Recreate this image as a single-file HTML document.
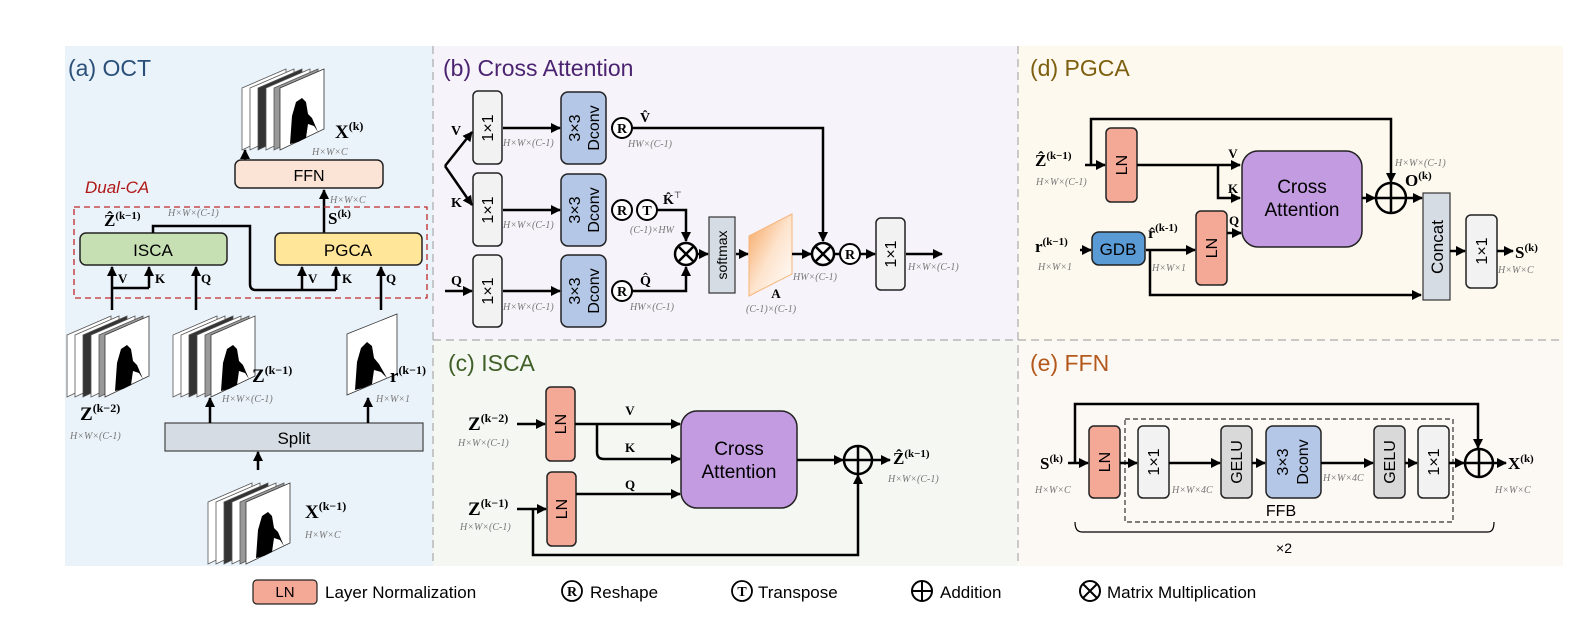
<!DOCTYPE html>
<html><head><meta charset="utf-8"><style>
html,body{margin:0;padding:0;background:#fff}
svg{display:block}
.t{font-family:"Liberation Sans",sans-serif}
.m{font-family:"Liberation Serif",serif;font-weight:bold;fill:#000}
.d{font-family:"Liberation Serif",serif;font-style:italic;fill:#777;font-size:10px}
.ln{stroke:#000;stroke-width:2.5;fill:none}
.bx{stroke:#222;stroke-width:1.5}
</style></head><body>
<svg width="1582" height="641" viewBox="0 0 1582 641" xmlns="http://www.w3.org/2000/svg">
<defs>
<marker id="ar" viewBox="0 0 10 10" refX="9" refY="5" markerWidth="4" markerHeight="4" orient="auto-start-reverse" markerUnits="strokeWidth"><path d="M0,0 L10,5 L0,10 z" fill="#000"/></marker>
<linearGradient id="og" x1="0" y1="0" x2="1" y2="1"><stop offset="0" stop-color="#f7a35c"/><stop offset="0.5" stop-color="#fde3cc"/><stop offset="1" stop-color="#fff"/></linearGradient>
<g id="stk">
<polygon points="0,22 44,3 44,63 0,84" fill="#fff" stroke="#555" stroke-width="0.8"/>
<polygon points="8,22 52,3 52,63 8,84" fill="#fff" stroke="#555" stroke-width="0.8"/>
<polygon points="16,22 60,3 60,63 16,84" fill="#333" stroke="#555" stroke-width="0.8"/>
<polygon points="24,22 68,3 68,63 24,84" fill="#fff" stroke="#555" stroke-width="0.8"/>
<polygon points="32,22 76,3 76,63 32,84" fill="#999" stroke="#555" stroke-width="0.8"/>
<polygon points="38,22 82,3 82,63 38,84" fill="#fff" stroke="#333" stroke-width="0.8"/>
<path d="M48,78 L50,50 L54,36 L60,32 L64,36 L66,48 L70,52 L76,66 L72,60 L66,58 L64,72 L56,76 z" fill="#000"/>
</g>
</defs>

<!-- panel backgrounds -->
<rect x="65" y="46" width="368" height="520" fill="#ebf3fa"/>
<rect x="433" y="46" width="585" height="294" fill="#f6f4fa"/>
<rect x="433" y="340" width="585" height="226" fill="#f5f7f3"/>
<rect x="1018" y="46" width="545" height="294" fill="#fdf9ee"/>
<rect x="1018" y="340" width="545" height="226" fill="#fcf8f4"/>
<line x1="433" y1="46" x2="433" y2="566" stroke="#aaa" stroke-dasharray="8,5" stroke-width="1.2"/>
<line x1="1018" y1="46" x2="1018" y2="566" stroke="#aaa" stroke-dasharray="8,5" stroke-width="1.2"/>
<line x1="433" y1="340" x2="1563" y2="340" stroke="#aaa" stroke-dasharray="8,5" stroke-width="1.2"/>

<text class="t" x="68" y="76" font-size="23" fill="#2a507a">(a) OCT</text>
<text class="t" x="443" y="76" font-size="23" fill="#4b2370">(b) Cross Attention</text>
<text class="t" x="448" y="371" font-size="23" fill="#3f5f27">(c) ISCA</text>
<text class="t" x="1030" y="76" font-size="23" fill="#7d5f10">(d) PGCA</text>
<text class="t" x="1030" y="371" font-size="23" fill="#b3591c">(e) FFN</text>

<!-- ===== (a) ===== -->
<use href="#stk" transform="translate(242,66)"/>
<text class="m" x="335" y="138" font-size="19">X<tspan font-size="12" dy="-8">(k)</tspan></text>
<text class="d" x="312" y="155">H×W×C</text>
<line class="ln" x1="245" y1="160" x2="245" y2="150" marker-end="url(#ar)"/>
<rect class="bx" x="235" y="160" width="148" height="28" rx="6" fill="#fbe4d6"/>
<text class="t" x="309" y="181" font-size="16" text-anchor="middle">FFN</text>
<line class="ln" x1="324" y1="233" x2="324" y2="190" marker-end="url(#ar)"/>
<text class="d" x="330" y="203">H×W×C</text>
<text class="t" x="85" y="193" font-size="17" font-style="italic" fill="#b01818">Dual-CA</text>
<rect x="74" y="207" width="353" height="91" fill="none" stroke="#c0282a" stroke-width="1.3" stroke-dasharray="6,4"/>
<text class="m" x="104" y="226" font-size="17">Ẑ<tspan font-size="11" dy="-7">(k−1)</tspan></text>
<text class="d" x="168" y="216">H×W×(C-1)</text>
<text class="m" x="328" y="224" font-size="17">S<tspan font-size="11" dy="-7">(k)</tspan></text>
<rect class="bx" x="80" y="233" width="147" height="32" rx="6" fill="#c6e0b4"/>
<text class="t" x="153" y="256" font-size="17" text-anchor="middle">ISCA</text>
<rect class="bx" x="275" y="233" width="147" height="32" rx="6" fill="#ffe699"/>
<text class="t" x="348" y="256" font-size="17" text-anchor="middle">PGCA</text>
<path class="ln" d="M153,233 V226 H250 V284 Q250,290 256,290 H336"/>
<line class="ln" x1="336" y1="290" x2="336" y2="267" marker-end="url(#ar)"/>
<line class="ln" x1="302" y1="290" x2="302" y2="267" marker-end="url(#ar)"/>
<line class="ln" x1="381" y1="310" x2="381" y2="267" marker-end="url(#ar)"/>
<line class="ln" x1="112" y1="310" x2="112" y2="267" marker-end="url(#ar)"/>
<path class="ln" d="M112,288 H149"/>
<line class="ln" x1="149" y1="288" x2="149" y2="267" marker-end="url(#ar)"/>
<line class="ln" x1="196" y1="310" x2="196" y2="267" marker-end="url(#ar)"/>
<text class="m" x="118" y="283" font-size="13">V</text>
<text class="m" x="155" y="283" font-size="13">K</text>
<text class="m" x="201" y="283" font-size="13">Q</text>
<text class="m" x="308" y="283" font-size="13">V</text>
<text class="m" x="342" y="283" font-size="13">K</text>
<text class="m" x="386" y="283" font-size="13">Q</text>
<use href="#stk" transform="translate(67,313)"/>
<use href="#stk" transform="translate(173,313)"/>
<g transform="translate(347,312)"><polygon points="0,22 50,2 50,62 0,83" fill="#fff" stroke="#333" stroke-width="0.8"/><path d="M8,78 L10,50 L14,36 L20,30 L25,34 L27,46 L32,52 L40,66 L34,60 L27,58 L25,72 L16,76 z" fill="#000"/></g>
<text class="m" x="80" y="420" font-size="19">Z<tspan font-size="12" dy="-8">(k−2)</tspan></text>
<text class="d" x="70" y="439">H×W×(C-1)</text>
<text class="m" x="252" y="382" font-size="19">Z<tspan font-size="12" dy="-8">(k−1)</tspan></text>
<text class="d" x="222" y="402">H×W×(C-1)</text>
<text class="m" x="390" y="382" font-size="19">r<tspan font-size="12" dy="-8">(k−1)</tspan></text>
<text class="d" x="376" y="402">H×W×1</text>
<rect x="165" y="423" width="258" height="28" fill="#d6dce4" stroke="#444" stroke-width="1.2"/>
<text class="t" x="294" y="444" font-size="17" text-anchor="middle">Split</text>
<line class="ln" x1="210" y1="423" x2="210" y2="398" marker-end="url(#ar)"/>
<line class="ln" x1="368" y1="423" x2="368" y2="398" marker-end="url(#ar)"/>
<line class="ln" x1="258" y1="470" x2="258" y2="452" marker-end="url(#ar)"/>
<use href="#stk" transform="translate(208,480)"/>
<text class="m" x="305" y="518" font-size="19">X<tspan font-size="12" dy="-8">(k−1)</tspan></text>
<text class="d" x="305" y="538">H×W×C</text>

<!-- ===== (b) ===== -->
<g class="bx" fill="#f2f2f2">
<rect x="473" y="91" width="29" height="73" rx="5"/><rect x="473" y="173" width="29" height="73" rx="5"/><rect x="473" y="255" width="29" height="72" rx="5"/>
<rect x="876" y="218" width="29" height="72" rx="5"/>
</g>
<g class="bx" fill="#b4c7e7">
<rect x="561" y="92" width="45" height="72" rx="7"/><rect x="561" y="174" width="45" height="72" rx="7"/><rect x="561" y="255" width="45" height="72" rx="7"/>
</g>
<g class="t" font-size="16" text-anchor="middle">
<text transform="translate(493,128) rotate(-90)">1×1</text>
<text transform="translate(493,210) rotate(-90)">1×1</text>
<text transform="translate(493,291) rotate(-90)">1×1</text>
<text transform="translate(896,254) rotate(-90)">1×1</text>
<text transform="translate(580,128) rotate(-90)">3×3</text><text transform="translate(599,128) rotate(-90)">Dconv</text>
<text transform="translate(580,210) rotate(-90)">3×3</text><text transform="translate(599,210) rotate(-90)">Dconv</text>
<text transform="translate(580,291) rotate(-90)">3×3</text><text transform="translate(599,291) rotate(-90)">Dconv</text>
</g>
<path class="ln" d="M445,166 L472,132" marker-end="url(#ar)"/>
<path class="ln" d="M445,166 L472,205" marker-end="url(#ar)"/>
<line class="ln" x1="445" y1="291" x2="472" y2="291" marker-end="url(#ar)"/>
<text class="m" x="451" y="135" font-size="14">V</text>
<text class="m" x="451" y="207" font-size="14">K</text>
<text class="m" x="451" y="285" font-size="14">Q</text>
<line class="ln" x1="503" y1="128" x2="560" y2="128" marker-end="url(#ar)"/>
<line class="ln" x1="503" y1="210" x2="560" y2="210" marker-end="url(#ar)"/>
<line class="ln" x1="503" y1="291" x2="560" y2="291" marker-end="url(#ar)"/>
<text class="d" x="503" y="146">H×W×(C-1)</text>
<text class="d" x="503" y="228">H×W×(C-1)</text>
<text class="d" x="503" y="310">H×W×(C-1)</text>
<g fill="#fff" stroke="#000" stroke-width="2">
<circle cx="622" cy="128" r="10"/><circle cx="622" cy="210" r="10"/><circle cx="647" cy="210" r="10"/><circle cx="622" cy="291" r="10"/><circle cx="850" cy="254" r="10"/>
</g>
<g class="m" font-size="14" text-anchor="middle" font-weight="normal">
<text x="622" y="133">R</text><text x="622" y="215">R</text><text x="647" y="215">T</text><text x="622" y="296">R</text><text x="850" y="259">R</text>
</g>
<path class="ln" d="M632,128 H823 V241" marker-end="url(#ar)"/>
<path class="ln" d="M657,210 H686 V241" marker-end="url(#ar)"/>
<path class="ln" d="M632,291 H686 V267" marker-end="url(#ar)"/>
<text class="m" x="640" y="122" font-size="14">V̂</text>
<text class="m" x="663" y="204" font-size="14">K̂<tspan font-size="9" dy="-6" font-weight="normal">⊤</tspan></text>
<text class="m" x="640" y="285" font-size="14">Q̂</text>
<text class="d" x="628" y="147">HW×(C-1)</text>
<text class="d" x="630" y="233">(C-1)×HW</text>
<text class="d" x="630" y="310">HW×(C-1)</text>
<g fill="#fff" stroke="#000" stroke-width="2.5">
<circle cx="686" cy="254" r="11"/><circle cx="823" cy="254" r="11"/>
</g>
<path d="M678,246 L694,262 M694,246 L678,262 M815,246 L831,262 M831,246 L815,262" stroke="#000" stroke-width="2.5"/>
<line class="ln" x1="697" y1="254" x2="708" y2="254" marker-end="url(#ar)"/>
<rect x="709" y="217" width="26" height="76" fill="#d6dce4" stroke="#333" stroke-width="1.2"/>
<text class="t" transform="translate(727,255) rotate(-90)" font-size="14" text-anchor="middle">softmax</text>
<line class="ln" x1="736" y1="254" x2="748" y2="254" marker-end="url(#ar)"/>
<polygon points="749,236 792,214 792,274 749,296" fill="url(#og)" stroke="#f7b57a" stroke-width="1"/>
<text class="m" x="776" y="298" font-size="13" text-anchor="middle">A</text>
<text class="d" x="746" y="312">(C-1)×(C-1)</text>
<line class="ln" x1="792" y1="254" x2="811" y2="254" marker-end="url(#ar)"/>
<line class="ln" x1="834" y1="254" x2="839" y2="254"/>
<line class="ln" x1="860" y1="254" x2="875" y2="254" marker-end="url(#ar)"/>
<text class="d" x="793" y="280">HW×(C-1)</text>
<line class="ln" x1="906" y1="254" x2="942" y2="254" marker-end="url(#ar)"/>
<text class="d" x="908" y="270">H×W×(C-1)</text>

<!-- ===== (c) ===== -->
<g class="bx" fill="#f4a896">
<rect x="546" y="387" width="29" height="74" rx="5"/><rect x="547" y="472" width="29" height="74" rx="5"/>
<rect x="1106" y="128" width="31" height="74" rx="5"/><rect x="1196" y="211" width="31" height="74" rx="5"/>
<rect x="1089" y="426" width="31" height="72" rx="5"/>
</g>
<g class="t" font-size="16" text-anchor="middle">
<text transform="translate(566,424) rotate(-90)">LN</text>
<text transform="translate(567,509) rotate(-90)">LN</text>
<text transform="translate(1127,165) rotate(-90)">LN</text>
<text transform="translate(1217,248) rotate(-90)">LN</text>
<text transform="translate(1110,462) rotate(-90)">LN</text>
</g>
<text class="m" x="468" y="430" font-size="19">Z<tspan font-size="12" dy="-8">(k−2)</tspan></text>
<text class="d" x="458" y="446">H×W×(C-1)</text>
<line class="ln" x1="517" y1="424" x2="545" y2="424" marker-end="url(#ar)"/>
<text class="m" x="468" y="515" font-size="19">Z<tspan font-size="12" dy="-8">(k−1)</tspan></text>
<text class="d" x="460" y="530">H×W×(C-1)</text>
<line class="ln" x1="517" y1="509" x2="546" y2="509" marker-end="url(#ar)"/>
<path class="ln" d="M533,509 V555 H858 V475" marker-end="url(#ar)"/>
<line class="ln" x1="575" y1="424" x2="680" y2="424" marker-end="url(#ar)"/>
<path class="ln" d="M597,424 V452 Q597,459 604,459 H680" marker-end="url(#ar)"/>
<line class="ln" x1="576" y1="494" x2="680" y2="494" marker-end="url(#ar)"/>
<text class="m" x="630" y="415" font-size="13" text-anchor="middle">V</text>
<text class="m" x="630" y="452" font-size="13" text-anchor="middle">K</text>
<text class="m" x="630" y="489" font-size="13" text-anchor="middle">Q</text>
<rect class="bx" x="681" y="411" width="116" height="97" rx="16" fill="#c39be0"/>
<text class="t" x="739" y="455" font-size="19" text-anchor="middle">Cross</text>
<text class="t" x="739" y="478" font-size="19" text-anchor="middle">Attention</text>
<line class="ln" x1="797" y1="460" x2="843" y2="460" marker-end="url(#ar)"/>
<line class="ln" x1="872" y1="460" x2="890" y2="460" marker-end="url(#ar)"/>
<text class="m" x="893" y="464" font-size="17">Ẑ<tspan font-size="11" dy="-7">(k−1)</tspan></text>
<text class="d" x="888" y="482">H×W×(C-1)</text>

<!-- plus circles -->
<g fill="none" stroke="#000" stroke-width="2.5">
<circle cx="858" cy="460" r="14"/><path d="M844,460 H872 M858,446 V474"/>
<circle cx="1391" cy="198" r="15"/><path d="M1376,198 H1406 M1391,183 V213"/>
<circle cx="1479" cy="463" r="14"/><path d="M1465,463 H1493 M1479,449 V477"/>
</g>

<!-- ===== (d) ===== -->
<text class="m" x="1035" y="166" font-size="17">Ẑ<tspan font-size="11" dy="-7">(k−1)</tspan></text>
<text class="d" x="1036" y="185">H×W×(C-1)</text>
<line class="ln" x1="1085" y1="165" x2="1105" y2="165" marker-end="url(#ar)"/>
<path class="ln" d="M1091,165 V119 H1391 V182" marker-end="url(#ar)"/>
<line class="ln" x1="1137" y1="165" x2="1240" y2="165" marker-end="url(#ar)"/>
<path class="ln" d="M1218,165 V198 H1240" marker-end="url(#ar)"/>
<text class="m" x="1233" y="158" font-size="13" text-anchor="middle">V</text>
<text class="m" x="1233" y="193" font-size="13" text-anchor="middle">K</text>
<text class="m" x="1234" y="225" font-size="13" text-anchor="middle">Q</text>
<rect class="bx" x="1242" y="151" width="120" height="96" rx="16" fill="#c39be0"/>
<text class="t" x="1302" y="193" font-size="19" text-anchor="middle">Cross</text>
<text class="t" x="1302" y="216" font-size="19" text-anchor="middle">Attention</text>
<line class="ln" x1="1362" y1="198" x2="1375" y2="198" marker-end="url(#ar)"/>
<line class="ln" x1="1406" y1="198" x2="1422" y2="198" marker-end="url(#ar)"/>
<text class="m" x="1405" y="186" font-size="17">O<tspan font-size="11" dy="-7">(k)</tspan></text>
<text class="d" x="1395" y="166">H×W×(C-1)</text>
<rect x="1423" y="193" width="27" height="107" fill="#d6dce4" stroke="#333" stroke-width="1.2"/>
<text class="t" transform="translate(1443,247) rotate(-90)" font-size="17" text-anchor="middle">Concat</text>
<line class="ln" x1="1450" y1="251" x2="1465" y2="251" marker-end="url(#ar)"/>
<rect class="bx" x="1466" y="215" width="31" height="73" rx="5" fill="#f2f2f2"/>
<text class="t" transform="translate(1487,251) rotate(-90)" font-size="16" text-anchor="middle">1×1</text>
<line class="ln" x1="1497" y1="251" x2="1513" y2="251" marker-end="url(#ar)"/>
<text class="m" x="1515" y="258" font-size="17">S<tspan font-size="11" dy="-7">(k)</tspan></text>
<text class="d" x="1498" y="273">H×W×C</text>
<text class="m" x="1035" y="252" font-size="17">r<tspan font-size="11" dy="-7">(k−1)</tspan></text>
<text class="d" x="1038" y="270">H×W×1</text>
<line class="ln" x1="1080" y1="250" x2="1091" y2="250" marker-end="url(#ar)"/>
<rect class="bx" x="1092" y="232" width="53" height="33" rx="7" fill="#5b9bd5"/>
<text class="t" x="1118" y="255" font-size="17" text-anchor="middle">GDB</text>
<text class="m" x="1148" y="238" font-size="16">r̂<tspan font-size="11" dy="-7">(k-1)</tspan></text>
<line class="ln" x1="1146" y1="250" x2="1195" y2="250" marker-end="url(#ar)"/>
<text class="d" x="1152" y="271">H×W×1</text>
<path class="ln" d="M1150,250 V295 H1421" marker-end="url(#ar)"/>
<line class="ln" x1="1227" y1="233" x2="1241" y2="233" marker-end="url(#ar)"/>

<!-- ===== (e) ===== -->
<text class="m" x="1040" y="469" font-size="17">S<tspan font-size="11" dy="-7">(k)</tspan></text>
<text class="d" x="1035" y="493">H×W×C</text>
<line class="ln" x1="1068" y1="463" x2="1088" y2="463" marker-end="url(#ar)"/>
<path class="ln" d="M1075,463 V404 H1478 V448" marker-end="url(#ar)"/>
<rect x="1125" y="419" width="328" height="103" fill="none" stroke="#333" stroke-width="1.2" stroke-dasharray="5,3"/>
<text class="t" x="1281" y="516" font-size="16" text-anchor="middle">FFB</text>
<g class="bx">
<rect x="1138" y="426" width="31" height="72" rx="5" fill="#f2f2f2"/>
<rect x="1221" y="426" width="31" height="72" rx="5" fill="#d9d9d9"/>
<rect x="1266" y="426" width="55" height="72" rx="7" fill="#b4c7e7"/>
<rect x="1374" y="426" width="31" height="72" rx="5" fill="#d9d9d9"/>
<rect x="1418" y="426" width="31" height="72" rx="5" fill="#f2f2f2"/>
</g>
<g class="t" font-size="16" text-anchor="middle">
<text transform="translate(1159,462) rotate(-90)">1×1</text>
<text transform="translate(1242,462) rotate(-90)">GELU</text>
<text transform="translate(1288,462) rotate(-90)">3×3</text>
<text transform="translate(1308,462) rotate(-90)">Dconv</text>
<text transform="translate(1395,462) rotate(-90)">GELU</text>
<text transform="translate(1439,462) rotate(-90)">1×1</text>
</g>
<line class="ln" x1="1120" y1="463" x2="1137" y2="463" marker-end="url(#ar)"/>
<line class="ln" x1="1169" y1="463" x2="1220" y2="463" marker-end="url(#ar)"/>
<line class="ln" x1="1252" y1="463" x2="1265" y2="463" marker-end="url(#ar)"/>
<line class="ln" x1="1321" y1="463" x2="1373" y2="463" marker-end="url(#ar)"/>
<line class="ln" x1="1405" y1="463" x2="1417" y2="463" marker-end="url(#ar)"/>
<line class="ln" x1="1449" y1="463" x2="1464" y2="463" marker-end="url(#ar)"/>
<line class="ln" x1="1493" y1="463" x2="1506" y2="463" marker-end="url(#ar)"/>
<text class="d" x="1172" y="493">H×W×4C</text>
<text class="d" x="1323" y="481">H×W×4C</text>
<text class="m" x="1508" y="469" font-size="17">X<tspan font-size="11" dy="-7">(k)</tspan></text>
<text class="d" x="1495" y="493">H×W×C</text>
<path d="M1075,522 Q1075,532 1082,532 H1488 Q1494,532 1494,522" fill="none" stroke="#000" stroke-width="1.2"/>
<text class="t" x="1284" y="553" font-size="14" text-anchor="middle">×2</text>

<!-- legend -->
<rect x="253" y="580" width="64" height="24" rx="4" fill="#f4a896" stroke="#222" stroke-width="1.2"/>
<text class="t" x="285" y="597" font-size="15" text-anchor="middle">LN</text>
<text class="t" x="325" y="598" font-size="17">Layer Normalization</text>
<circle cx="572" cy="591" r="10" fill="none" stroke="#000" stroke-width="1.8"/>
<text class="m" x="572" y="596" font-size="14" text-anchor="middle" font-weight="normal">R</text>
<text class="t" x="590" y="598" font-size="17">Reshape</text>
<circle cx="742" cy="591" r="10" fill="none" stroke="#000" stroke-width="1.8"/>
<text class="m" x="742" y="596" font-size="14" text-anchor="middle" font-weight="normal">T</text>
<text class="t" x="758" y="598" font-size="17">Transpose</text>
<circle cx="922" cy="591" r="10" fill="none" stroke="#000" stroke-width="2"/>
<path d="M912,591 H932 M922,581 V601" stroke="#000" stroke-width="2"/>
<text class="t" x="940" y="598" font-size="17">Addition</text>
<circle cx="1090" cy="591" r="10" fill="none" stroke="#000" stroke-width="2"/>
<path d="M1083,584 L1097,598 M1097,584 L1083,598" stroke="#000" stroke-width="2"/>
<text class="t" x="1107" y="598" font-size="17">Matrix Multiplication</text>
</svg>
</body></html>
